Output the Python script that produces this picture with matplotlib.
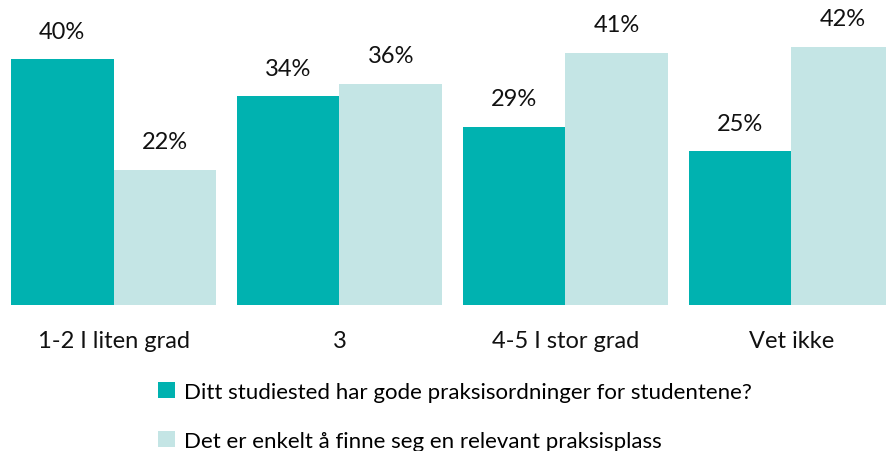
import matplotlib
matplotlib.use("Agg")
import matplotlib.pyplot as plt
import numpy as np
from matplotlib.patches import Patch

categories = ["1-2 I liten grad", "3", "4-5 I stor grad", "Vet ikke"]
series_names = ["Ditt studiested har gode praksisordninger for studentene?",
                "Det er enkelt å finne seg en relevant praksisplass"]
values_a = [40, 34, 29, 25]
values_b = [22, 36, 41, 42]
colors = ["#00B2B0", "#C4E5E5"]

plt.rcParams['font.family'] = ['Lato', 'DejaVu Sans']

fig = plt.figure(figsize=(8.86, 4.52), dpi=100)
ax = fig.add_axes([0, 1 - 306/452, 1, 306/452])
ax.set_xlim(-0.503, 3.42)
ax.set_ylim(0, 306/6.15)

x = np.arange(len(categories))
w = 0.454
bars_a = ax.bar(x - w/2, values_a, w, color=colors[0])
bars_b = ax.bar(x + w/2, values_b, w, color=colors[1])
for bars, vals in ((bars_a, values_a), (bars_b, values_b)):
    for b, v in zip(bars, vals):
        ax.annotate(f"{v}%", (b.get_x() + b.get_width()/2, v), xytext=(0, 12.5),
                    textcoords="offset points", ha="center", va="bottom",
                    fontsize=17, color="#111111")

ax.set_xticks(x)
ax.set_xticklabels(categories, fontsize=17, color="#111111")
ax.tick_params(axis='x', length=0, pad=18)
ax.set_yticks([])
for s in ax.spines.values():
    s.set_visible(False)

handles = [Patch(facecolor=c, edgecolor='none') for c in colors]
fig.legend(handles, series_names, loc="upper left", bbox_to_anchor=(158/886, 1 - 383/452),
           frameon=False, fontsize=16, handlelength=0.75, handleheight=0.75,
           handletextpad=0.4, labelspacing=1.3, borderaxespad=0, borderpad=0)

fig.savefig("out.png", dpi=100)
